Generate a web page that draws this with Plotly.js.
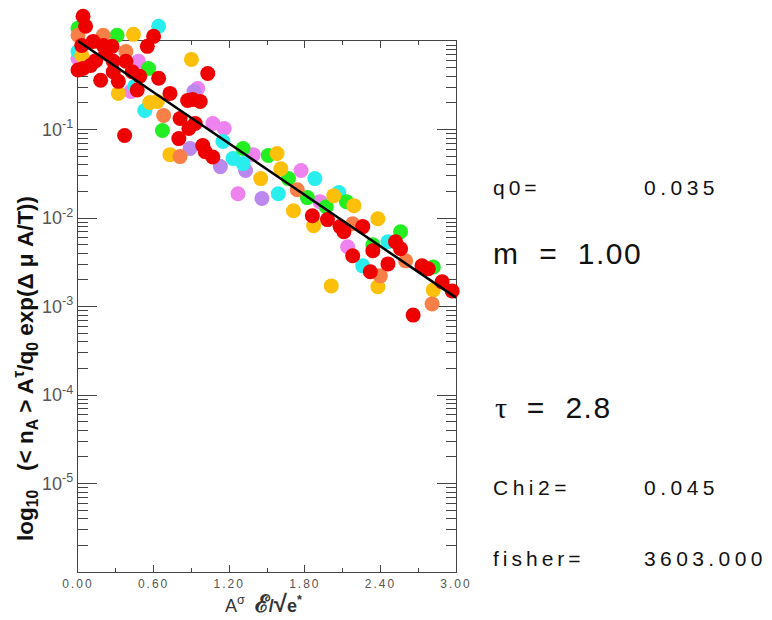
<!DOCTYPE html>
<html>
<head>
<meta charset="utf-8">
<script src="https://cdn.plot.ly/plotly-3.0.1.min.js"></script>
<style>html,body{margin:0;padding:0;background:#fff;}#chart{width:772px;height:620px;}</style>
</head>
<body>
<div id="chart"></div>
<script>
// ---- data (x = A^sigma E/sqrt(e*), y = scaled yield) ----
var violetX = [0.00, 0.48, 0.42, 0.95, 1.07, 1.16, 1.39, 1.77, 1.27, 1.92, 2.14];
var violetY = [0.637, 0.589, 0.269, 0.291, 0.117, 0.1025, 0.052, 0.0344, 0.0188, 0.0153, 0.00473];

var purpleX = [0.92, 0.89, 1.13, 1.33, 1.46];
var purpleY = [0.269, 0.061, 0.0381, 0.0344, 0.0166];

var cyanX = [0.00, 0.64, 0.45, 0.53, 1.15, 1.23, 1.31, 1.88, 1.59, 2.07, 2.46, 2.26];
var cyanY = [0.76, 1.47, 0.307, 0.164, 0.0731, 0.047, 0.0412, 0.0279, 0.0188, 0.0194, 0.0054, 0.00288];

var greenX = [0.00, 0.31, 0.56, 0.67, 1.31, 1.51, 1.67, 1.82, 1.97, 2.13, 2.56, 2.34, 2.82];
var greenY = [1.39, 1.16, 0.49, 0.0975, 0.061, 0.0508, 0.0279, 0.017, 0.0134, 0.0153, 0.0070, 0.00499, 0.0028];

var goldX = [0.44, 0.03, 0.32, 0.57, 0.63, 0.73, 1.58, 1.61, 1.45, 1.71, 2.03, 2.19, 2.38, 1.87, 2.38, 2.01, 2.82, 0.90];
var goldY = [1.19, 0.69, 0.256, 0.202, 0.207, 0.052, 0.0535, 0.0361, 0.0279, 0.0121, 0.0179, 0.0138, 0.0098, 0.0082, 0.00167, 0.00171, 0.00154, 0.62];

var coralX = [0.00, 0.20, 0.38, 0.68, 0.81, 1.74, 2.18, 2.60, 2.40, 2.81];
var coralY = [1.16, 1.16, 0.76, 0.144, 0.0494, 0.0209, 0.0086, 0.00328, 0.00222, 0.00107];

var redX = [0.04, 0.06, 0.03, 0.12, 0.20, 0.27, 0.22, 0.14, 0.04, 0.00, 0.10, 0.28, 0.38, 0.28, 0.18, 0.32,
            0.43, 0.49, 0.47, 0.64, 0.55, 0.60, 0.73, 0.87, 0.37, 1.03, 0.91, 0.97, 0.81, 0.93, 0.88, 0.80,
            0.99, 1.07, 1.01, 1.86, 1.98, 2.08, 2.11, 2.26, 2.18, 2.32, 2.34, 2.46, 2.52, 2.56, 2.73, 2.78,
            2.89, 2.97, 2.66];
var redY = [1.9, 1.47, 0.89, 0.99, 0.89, 0.87, 0.73, 0.60, 0.49, 0.47, 0.53, 0.59, 0.59, 0.45, 0.36, 0.35,
            0.45, 0.40, 0.28, 0.38, 0.87, 1.13, 0.256, 0.213, 0.0855, 0.43, 0.219, 0.207, 0.133, 0.117, 0.103, 0.079,
            0.066, 0.049, 0.056, 0.0106, 0.0096, 0.0080, 0.0070, 0.0080, 0.00374, 0.00247, 0.00427, 0.00303, 0.0054, 0.00449, 0.00288, 0.00267,
            0.0019, 0.0015, 0.0008];

var fitX = [0.0, 3.0];
var fitY = [1.0, 0.00126];

var xTickVals = [0, 0.6, 1.2, 1.8, 2.4, 3.0];
var xTickText = ['0.00', '0.60', '1.20', '1.80', '2.40', '3.00'];
var yTickVals = [1e-6, 1e-5, 1e-4, 1e-3, 1e-2, 1e-1, 1];
var yTickText = ['', '10<sup>-5</sup>', '10<sup>-4</sup>', '10<sup>-3</sup>', '10<sup>-2</sup>', '10<sup>-1</sup>', ''];

var statLabels = ['q0=', 'Chi2=', 'fisher='];
var statValues = ['0.035', '0.045', '3603.000'];

// minor log tick positions (2..9 x each decade)
var yMinorVals = [];
for (var e = -6; e < 0; e++) {
  for (var k = 2; k <= 9; k++) yMinorVals.push(k * Math.pow(10, e));
}

// ---- styling ----
function pts(x, y, color) {
  return {x: x, y: y, xaxis: 'x2', yaxis: 'y2', type: 'scatter', mode: 'markers',
          cliponaxis: false, hoverinfo: 'skip', showlegend: false,
          marker: {size: 15, color: color, line: {width: 0}}};
}
var traces = [
  {x: [], y: [], xaxis: 'x', yaxis: 'y', type: 'scatter', mode: 'markers', showlegend: false},
  pts(violetX, violetY, '#ee82ee'),
  pts(purpleX, purpleY, '#bb88ee'),
  pts(cyanX, cyanY, '#28eeee'),
  pts(greenX, greenY, '#22ee22'),
  pts(goldX, goldY, '#fcbf0a'),
  pts(coralX, coralY, '#f88048'),
  pts(redX, redY, '#ee0000'),
  {x: fitX, y: fitY, xaxis: 'x2', yaxis: 'y2', type: 'scatter', mode: 'lines',
   cliponaxis: false, hoverinfo: 'skip', showlegend: false,
   line: {color: '#000000', width: 2.5}}
];

function spaced(t, px) { return '<span style="letter-spacing:' + px + 'px">' + t + '</span>'; }

var axisCol = '#444444';
var tickFontX = {family: 'Liberation Sans, Arial, sans-serif', size: 12, color: '#555555'};
var tickFontY = {family: 'Liberation Sans, Arial, sans-serif', size: 18, color: '#555555'};
var textFont = {family: 'Liberation Sans, Arial, sans-serif', size: 21, color: '#111111'};
var bigFont = {family: 'Liberation Sans, Arial, sans-serif', size: 30, color: '#111111'};

var yTop = 0.9448;
var layout = {
  width: 772, height: 620,
  margin: {l: 78, r: 316, t: 10, b: 48},
  paper_bgcolor: '#ffffff', plot_bgcolor: 'rgba(0,0,0,0)',
  showlegend: false,
  xaxis: {domain: [0, 1], anchor: 'y', range: [0, 3], tickmode: 'array', tickvals: xTickVals,
          ticktext: xTickText.map(function (t) { return spaced(t, 2); }),
          ticks: 'inside', ticklen: 7, tickcolor: axisCol, tickwidth: 1,
          showline: true, linecolor: axisCol, linewidth: 1.2, mirror: 'ticks', showgrid: false, zeroline: false,
          tickfont: tickFontX,
          minor: {tickmode: 'linear', tick0: 0, dtick: 0.3, ticks: 'inside', ticklen: 4, tickcolor: axisCol}},
  yaxis: {domain: [0, yTop], anchor: 'x', type: 'log', range: [-6, 0], tickmode: 'array',
          tickvals: yTickVals, ticktext: yTickText, ticks: 'inside', ticklen: 19, tickcolor: axisCol, tickwidth: 1,
          showline: true, linecolor: axisCol, linewidth: 1.2, mirror: 'ticks', showgrid: false, zeroline: false,
          tickfont: tickFontY,
          minor: {tickmode: 'array', tickvals: yMinorVals, ticks: 'inside', ticklen: 10, tickcolor: axisCol, tickwidth: 1}},
  xaxis2: {domain: [0, 1], anchor: 'y2', range: [0, 3], visible: false, showgrid: false, zeroline: false},
  yaxis2: {domain: [0, 1], anchor: 'x2', type: 'log', range: [-6, -6 + 6 / yTop], visible: false,
           showgrid: false, zeroline: false},
  annotations: [
    {xref: 'paper', yref: 'paper', x: 1.093, y: 0.685, xanchor: 'left', yanchor: 'middle', showarrow: false, text: spaced(statLabels[0], 4), font: textFont},
    {xref: 'paper', yref: 'paper', x: 1.492, y: 0.685, xanchor: 'left', yanchor: 'middle', showarrow: false, text: spaced(statValues[0], 4.5), font: textFont},
    {xref: 'paper', yref: 'paper', x: 1.093, y: 0.566, xanchor: 'left', yanchor: 'middle', showarrow: false, text: spaced('m  =  1.00', 1.5), font: bigFont},
    {xref: 'paper', yref: 'paper', x: 1.098, y: 0.292, xanchor: 'left', yanchor: 'middle', showarrow: false,
     text: '<span style="font-family:Liberation Serif, serif">τ</span>' + spaced('  =  2.8', 1.5), font: bigFont},
    {xref: 'paper', yref: 'paper', x: 1.093, y: 0.1495, xanchor: 'left', yanchor: 'middle', showarrow: false, text: spaced(statLabels[1], 4.5), font: textFont},
    {xref: 'paper', yref: 'paper', x: 1.492, y: 0.1495, xanchor: 'left', yanchor: 'middle', showarrow: false, text: spaced(statValues[1], 4.5), font: textFont},
    {xref: 'paper', yref: 'paper', x: 1.093, y: 0.0249, xanchor: 'left', yanchor: 'middle', showarrow: false, text: spaced(statLabels[2], 4), font: textFont},
    {xref: 'paper', yref: 'paper', x: 1.492, y: 0.0249, xanchor: 'left', yanchor: 'middle', showarrow: false, text: spaced(statValues[2], 4.4), font: textFont},
    {xref: 'paper', yref: 'paper', x: -0.1376, y: 0.363, xanchor: 'center', yanchor: 'middle', showarrow: false, textangle: -90,
     text: '<b>log<sub>10</sub>   (&lt; n<sub>A</sub> &gt; A<sup>τ</sup>/q<sub>0</sub> exp(Δ μ A/T))</b>',
     font: {family: 'Liberation Sans, Arial, sans-serif', size: 22.5, color: '#111111'}},
    {xref: 'paper', yref: 'paper', x: 0.492, y: -0.056, xanchor: 'center', yanchor: 'middle', showarrow: false,
     text: 'A<sup>σ</sup>  <b><span style="font-size:24px">ℰ</span>/<span style="font-size:24px">√</span>e<sup>*</sup></b>',
     font: {family: 'Liberation Sans, Arial, sans-serif', size: 18, color: '#333333'}}
  ]
};

Plotly.newPlot('chart', traces, layout, {staticPlot: true, displayModeBar: false});
</script>
</body>
</html>
